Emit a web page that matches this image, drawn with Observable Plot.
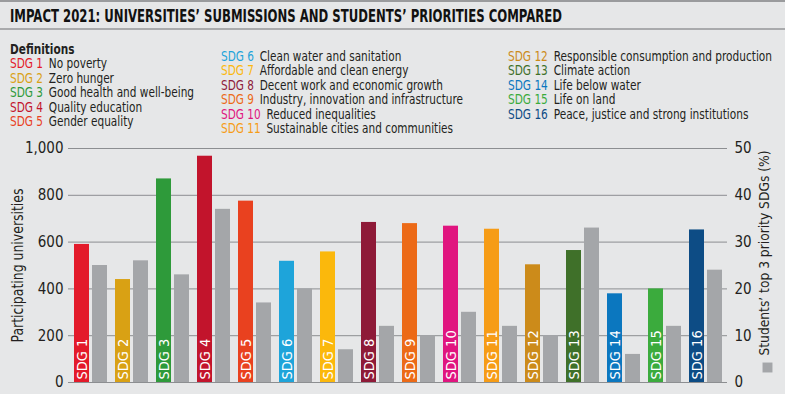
<!DOCTYPE html>
<html>
<head>
<meta charset="utf-8">
<script src="https://cdn.jsdelivr.net/npm/d3@7"></script>
<script src="https://cdn.jsdelivr.net/npm/@observablehq/plot@0.6"></script>
<style>
  html, body { margin: 0; padding: 0; background: #e6e7e8; }
  body { width: 785px; height: 394px; overflow: hidden; position: relative;
         font-family: "DejaVu Sans Condensed", "DejaVu Sans", sans-serif; font-stretch: condensed; color: #231f20; }
  #title { position: absolute; left: 0; top: 0; width: 785px; height: 30px; border-top: 2px solid #9a9b9d;
           border-bottom: 2px solid #a9aaac; box-sizing: border-box; }
  #title span { position: absolute; left: 10px; top: 4px; font-size: 17px; font-weight: bold; color: #111;
                white-space: nowrap; transform-origin: 0 0; display: inline-block; }
  .col { position: absolute; font-size: 14px; line-height: 14.5px; white-space: nowrap; transform-origin: 0 0; }
  .col .code { margin-right: 7px; }
  #chart { position: absolute; left: 0; top: 138px; }
</style>
</head>
<body>
<div id="title"><span>IMPACT 2021: UNIVERSITIES’ SUBMISSIONS AND STUDENTS’ PRIORITIES COMPARED</span></div>
<div id="legend"></div>
<div id="chart"></div>
<script>
const sdgs = ["SDG 1","SDG 2","SDG 3","SDG 4","SDG 5","SDG 6","SDG 7","SDG 8","SDG 9","SDG 10","SDG 11","SDG 12","SDG 13","SDG 14","SDG 15","SDG 16"];
const names = ["No poverty","Zero hunger","Good health and well-being","Quality education","Gender equality",
  "Clean water and sanitation","Affordable and clean energy","Decent work and economic growth","Industry, innovation and infrastructure",
  "Reduced inequalities","Sustainable cities and communities","Responsible consumption and production","Climate action",
  "Life below water","Life on land","Peace, justice and strong institutions"];
const colors = ["#e31a2a","#d9a114","#2e9a3a","#c2142c","#e9411f","#1ea4da","#fbb80c","#8e1a38","#ec6a17","#e0157f","#f69c16","#cc8b1a","#3f7029","#0b77bf","#3bab3d","#0d4c85"];
const universities = [590, 440, 870, 967, 775, 518, 558, 684, 679, 668, 655, 503, 564, 379, 400, 652];
const studentsPct = [25, 26, 23, 37, 17, 20, 7, 12, 10, 15, 12, 10, 33, 6, 12, 24];
const leftTicks = [0, 200, 400, 600, 800, 1000];
const rightTicks = [0, 10, 20, 30, 40, 50];
const leftLabel = "Participating universities";
const rightLabel = "Students’ top 3 priority SDGs (%)";

// Title: condense to the reference width
const titleSpan = document.querySelector("#title span");
titleSpan.style.transform = `scaleX(${552 / titleSpan.getBoundingClientRect().width})`;

// Legend (definitions)
const legend = document.getElementById("legend");
const cols = [
  {left: 10, top: 41.5, width: 184, items: [0,1,2,3,4], header: "Definitions"},
  {left: 221, top: 48.5, width: 242, items: [5,6,7,8,9,10]},
  {left: 508, top: 48.5, width: 264, items: [11,12,13,14,15]}
];
for (const c of cols) {
  const div = document.createElement("div");
  div.className = "col";
  div.style.left = c.left + "px";
  div.style.top = c.top + "px";
  let html = c.header ? `<div style="font-weight:bold">${c.header}</div>` : "";
  for (const i of c.items) {
    html += `<div><span class="code" style="color:${colors[i]}">${sdgs[i]}</span>${names[i]}</div>`;
  }
  div.innerHTML = html;
  legend.appendChild(div);
  div.style.display = "inline-block";
  const w = div.getBoundingClientRect().width;
  div.style.transform = `scaleX(${c.width / w})`;
}

const data = sdgs.map((s, i) => ({sdg: s, univ: universities[i], pct: studentsPct[i], color: colors[i]}));
const font = '"DejaVu Sans Condensed", "DejaVu Sans", sans-serif';

const chart = Plot.plot({
  width: 785,
  height: 256,
  marginLeft: 68,
  marginRight: 58,
  marginTop: 10,
  marginBottom: 12,
  style: {background: "transparent", fontFamily: font, fontSize: "15px", color: "#231f20"},
  x: {type: "band", domain: sdgs, paddingInner: 0.2, paddingOuter: 0.1, axis: null},
  y: {domain: [0, 1000], ticks: leftTicks, tickFormat: d3.format(","), tickSize: 0, tickPadding: 5, label: null},
  marks: [
    Plot.ruleY(leftTicks, {stroke: "#8c8e91", strokeWidth: 1}),
    Plot.barY(data, {x: "sdg", y: "univ", fill: "color", insetRight: 18}),
    Plot.barY(data, {x: "sdg", y: d => d.pct * 20, fill: "#a4a6a9", insetLeft: 18}),
    Plot.text(data, {x: "sdg", y: 0, text: "sdg", rotate: -90, textAnchor: "start", dx: -8.5, dy: -3,
      fill: "white", fontSize: 14.5}),
    Plot.text(rightTicks, {y: d => d * 20, text: d => String(d), frameAnchor: "right", textAnchor: "start", dx: 7, fontSize: 15}),
    Plot.text([leftLabel], {frameAnchor: "left", rotate: -90, dx: -51, fontSize: 16, textAnchor: "middle"}),
    Plot.text([rightLabel], {frameAnchor: "bottom-right", rotate: -90, dx: 41, dy: -27, textAnchor: "start", fontSize: 14}),
    Plot.dot([0], {frameAnchor: "bottom-right", dx: 40, dy: -15, symbol: "square", r: 5.6, fill: "#a4a6a9"})
  ]
});
const fit = {[leftLabel]: 154, [rightLabel]: 205};
d3.select(chart).selectAll("text").each(function() {
  const t = this.textContent;
  if (fit[t]) d3.select(this).attr("textLength", fit[t]).attr("lengthAdjust", "spacingAndGlyphs");
});
document.getElementById("chart").appendChild(chart);
</script>
</body>
</html>
